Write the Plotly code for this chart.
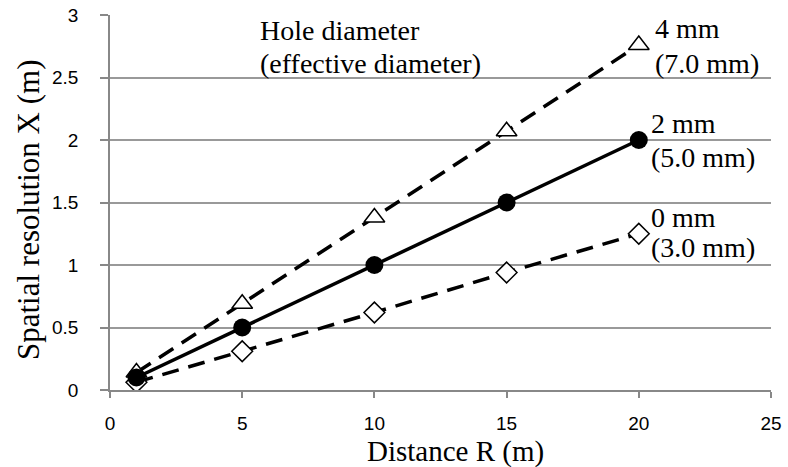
import plotly.graph_objects as go

distance = [1, 5, 10, 15, 20]
res_4mm = [0.14, 0.69, 1.38, 2.07, 2.76]
res_2mm = [0.10, 0.50, 1.00, 1.50, 2.00]
res_0mm = [0.0625, 0.31, 0.62, 0.94, 1.25]

x_ticks = [0, 5, 10, 15, 20, 25]
y_ticks = [0, 0.5, 1, 1.5, 2, 2.5, 3]
y_tick_text = ["0", "0.5", "1", "1.5", "2", "2.5", "3"]

serif = "Liberation Serif, Times New Roman, serif"
sans = "Liberation Sans, Arial, sans-serif"

W, H = 788, 467
ML, MR, MT, MB = 110, 17, 15, 77
PW, PH = W - ML - MR, H - MT - MB

fig = go.Figure()
fig.add_trace(go.Scatter(
    x=distance, y=res_4mm, mode="lines+markers",
    line=dict(color="black", width=3.5, dash="17px,10px"),
    marker=dict(symbol="triangle-up", size=18, color="white", line=dict(width=1.5, color="black")),
    showlegend=False))
fig.add_trace(go.Scatter(
    x=distance, y=res_0mm, mode="lines+markers",
    line=dict(color="black", width=3.5, dash="17px,10px"),
    marker=dict(symbol="diamond", size=16, color="white", line=dict(width=1.5, color="black")),
    showlegend=False))
fig.add_trace(go.Scatter(
    x=distance, y=res_2mm, mode="lines+markers",
    line=dict(color="black", width=3.5),
    marker=dict(symbol="circle", size=18, color="black"),
    showlegend=False))

annots = [
    (5.6, 2.88, "Hole diameter"),
    (5.6, 2.61, "(effective diameter)"),
    (20.55, 2.89, "4 mm"),
    (20.55, 2.61, "(7.0 mm)"),
    (20.4, 2.13, "2 mm"),
    (20.4, 1.86, "(5.0 mm)"),
    (20.4, 1.38, "0 mm"),
    (20.4, 1.14, "(3.0 mm)"),
]
for ax, ay, txt in annots:
    fig.add_annotation(x=ax, y=ay, text=txt, showarrow=False, xanchor="left", yanchor="middle",
                       font=dict(family=serif, size=28, color="black"))

# axis titles placed as annotations (paper coords are relative to the plot area)
fig.add_annotation(x=(455 - ML) / PW, y=(H - MB - 451) / PH, xref="paper", yref="paper",
                   yanchor="middle", xanchor="center",
                   text="Distance R (m)", showarrow=False,
                   font=dict(family=serif, size=29, color="black"))
fig.add_annotation(x=(28 - ML) / PW, y=(H - MB - 210) / PH, xref="paper", yref="paper",
                   yanchor="middle", xanchor="center",
                   text="Spatial resolution X (m)", showarrow=False, textangle=-90,
                   font=dict(family=serif, size=31, color="black"))

fig.update_layout(
    template="none",
    width=W, height=H,
    margin=dict(l=ML, r=MR, t=MT, b=MB, pad=0),
    paper_bgcolor="white", plot_bgcolor="white",
    xaxis=dict(range=[0, 25], tickvals=x_ticks, showgrid=False, zeroline=False, automargin=False,
               showline=True, linecolor="#888888", linewidth=1.5,
               ticks="outside", ticklen=6, tickcolor="#888888", tickwidth=1.5,
               ticklabelstandoff=9,
               tickfont=dict(family=sans, size=19, color="black")),
    yaxis=dict(range=[0, 3], tickvals=y_ticks, ticktext=y_tick_text, showgrid=True, gridcolor="#999999", gridwidth=1.5,
               zeroline=False, showline=True, linecolor="#888888", linewidth=1.5, automargin=False,
               ticks="outside", ticklen=8, tickcolor="#888888", tickwidth=1.5,
               ticklabelstandoff=18,
               tickfont=dict(family=sans, size=19, color="black")),
)

fig.write_html("out.html")
